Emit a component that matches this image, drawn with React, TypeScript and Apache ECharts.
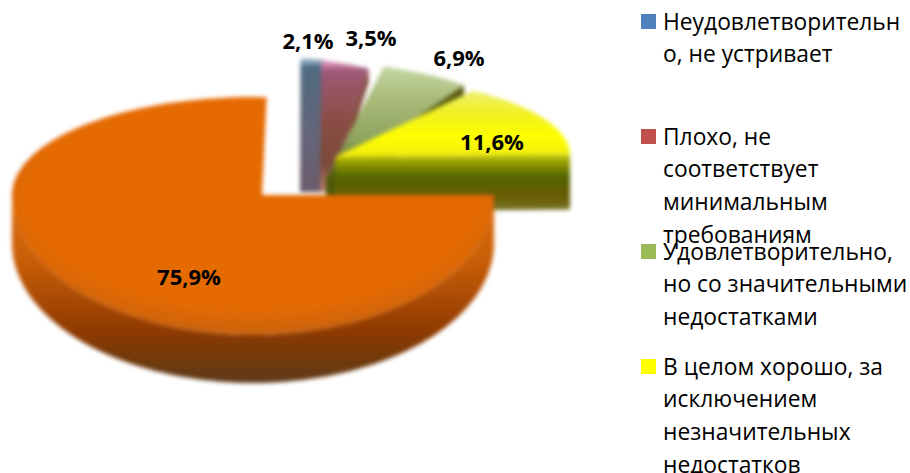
import React, { useEffect, useRef } from "react";
import * as echarts from "echarts";

const categories = [
  "Неудовлетворительно, не устривает",
  "Плохо, не соответствует минимальным требованиям",
  "Удовлетворительно, но со значительными недостатками",
  "В целом хорошо, за исключением незначительных недостатков",
  "Хорошо",
];
const values = [2.1, 3.5, 6.9, 11.6, 75.9];
const startAngles = [-87, -79.4, -66.8, -42, 0];

const legendLines = [
  ["Неудовлетворительн", "о, не устривает"],
  ["Плохо, не", "соответствует", "минимальным", "требованиям"],
  ["Удовлетворительно,", "но со значительными", "недостатками"],
  ["В целом хорошо, за", "исключением", "незначительных", "недостатков"],
];
const legendColors = ["#4f81bd", "#c0504d", "#9bbb59", "#ffff00"];

// Drawing geometry for each wedge: apex (with base width), ellipse centre, radii, warp of the angle, depth
const geometry = [
  { ax: 300, bw: 21, ay: 192, cx: 290, cy: 190, rx: 200, ryT: 132, ryB: 132, warp: 1, depth: 8, lx: 308, ly: 40 },
  { ax: 320, bw: 8, ay: 192, cx: 280, cy: 190, rx: 225, ryT: 132, ryB: 132, warp: 1, depth: 14, lx: 371, ly: 37 },
  { ax: 326, bw: 0, ay: 178, cx: 315, cy: 180, rx: 250, ryT: 118, ryB: 118, warp: 1.5, depth: 26, lx: 459, ly: 57 },
  { ax: 335, bw: 0, ay: 157, cx: 330, cy: 155, rx: 240, ryT: 80, ryB: 80, warp: 1.5, depth: 55, lx: 492, ly: 141 },
  { ax: 262, bw: 0, ay: 195, cx: 253, cy: 195, rx: 241, ryT: 98, ryB: 140, warp: 1, depth: 48, lx: 189, ly: 276 },
];

const grad = (stops: [number, string][], x2 = 0, y2 = 1) =>
  new echarts.graphic.LinearGradient(0, 0, x2, y2, stops.map(([offset, color]) => ({ offset, color })));

const faceFills = [
  grad([[0, "#a8c4d8"], [0.07, "#4f6a80"], [0.6, "#66657a"], [1, "#6a5a6a"]]),
  grad([[0, "#f0a8d0"], [0.08, "#a05a78"], [0.45, "#8a4d45"], [0.8, "#7a4a3a"], [1, "#c08070"]]),
  grad([[0, "#c4d8a4"], [0.3, "#a8b878"], [0.65, "#8fa55f"], [1, "#5a5a18"]]),
  grad([[0, "#eef070"], [0.35, "#f2f020"], [0.7, "#ffff00"], [1, "#f0ea10"]]),
  new echarts.graphic.RadialGradient(0.5, 0.42, 0.62, [
    { offset: 0, color: "#e46a00" },
    { offset: 0.75, color: "#e66a02" },
    { offset: 0.9, color: "#cf640c" },
    { offset: 1, color: "#b06428" },
  ]),
];
const wallFills = [
  grad([[0, "#5a5a6a"], [1, "#8a6a70"]]),
  grad([[0, "#7a4a3a"], [1, "#8a3a20"]]),
  grad([[0, "#5a5a10"], [1, "#4a5a05"]]),
  grad([[0, "#c4cc10"], [0.18, "#8a9000"], [0.4, "#526400"], [0.75, "#6a5c05"], [1, "#7a7a30"]]),
  grad([[0, "#de6c0c"], [0.35, "#c95e08"], [0.72, "#8f3a00"], [0.88, "#703a0c"], [1, "#5f3a1c"]]),
];

const warpAngle = (deg: number, k: number) => {
  if (k === 1) return (deg * Math.PI) / 180;
  const r = (deg * Math.PI) / 180;
  return Math.atan2(Math.sin(r) * k, Math.cos(r));
};

const renderItem = (_: unknown, api: any) => {
  const i: number = api.value(0);
  const v: number = api.value(1);
  const g = geometry[i];
  const sweep = (v / 100) * 360;
  const t0 = warpAngle(startAngles[i], g.warp);
  const t1 = warpAngle(startAngles[i] + sweep, g.warp);
  const end = t1 < t0 ? t1 + Math.PI * 2 : t1;
  const pt = (t: number, dy = 0): number[] => {
    const s = Math.sin(t);
    return [g.cx + g.rx * Math.cos(t), g.cy + (s < 0 ? g.ryT : g.ryB) * s + dy];
  };
  const steps = Math.max(6, Math.ceil(((end - t0) * 180) / Math.PI / 2));
  const arc: number[][] = [];
  for (let k = 0; k <= steps; k++) arc.push(pt(t0 + ((end - t0) * k) / steps));

  const children: any[] = [];
  const d = g.depth;
  const frontStart = Math.max(t0, 0);
  const frontEnd = Math.min(end, Math.PI);
  if (frontEnd > frontStart) {
    const upper: number[][] = [];
    const lower: number[][] = [];
    for (let k = 0; k <= 90; k++) {
      const t = frontStart + ((frontEnd - frontStart) * k) / 90;
      upper.push(pt(t));
      lower.push(pt(t, d));
    }
    children.push({
      type: "polygon",
      shape: { points: [...upper, ...lower.reverse()] },
      style: { fill: wallFills[i] },
    });
  }
  if (i < 4) {
    const p = pt(end);
    const right = g.ax + g.bw;
    children.push({
      type: "polygon",
      shape: { points: [[right, g.ay], p, [p[0], p[1] + d], [right, g.ay + d]] },
      style: { fill: wallFills[i] },
    });
  }
  const base = g.bw > 0 ? [[g.ax + g.bw, g.ay], [g.ax, g.ay]] : [[g.ax, g.ay]];
  children.push({
    type: "polygon",
    shape: { points: [...base, ...arc] },
    style: { fill: faceFills[i] },
  });
  return { type: "group", children };
};

const labelGraphics = values.map((v, i) => ({
  type: "text",
  x: geometry[i].lx,
  y: geometry[i].ly,
  style: {
    text: `${v.toFixed(1).replace(".", ",")}%`,
    font: 'bold 22px "Open Sans"',
    fill: "#000",
    align: "center",
    verticalAlign: "middle",
  },
}));

const legendStarts = [21, 136, 251, 366];
const legendGraphics = legendLines.flatMap((lines, i) => [
  {
    type: "rect",
    shape: { x: 641, y: legendStarts[i] - 7, width: 15, height: 15 },
    style: { fill: legendColors[i] },
  },
  ...lines.map((line, j) => ({
    type: "text",
    x: 663,
    y: legendStarts[i] + j * 32.7,
    style: {
      text: line,
      font: '22.8px "Open Sans"',
      fill: "#000",
      align: "left",
      verticalAlign: "middle",
    },
  })),
]);

const layerStyle = { position: "absolute", left: 0, top: 0, width: 910, height: 473 } as const;

export default function App() {
  const pieRef = useRef<HTMLDivElement>(null);
  const textRef = useRef<HTMLDivElement>(null);
  useEffect(() => {
    const pie = echarts.init(pieRef.current!, undefined, { renderer: "svg" });
    pie.setOption({
      animation: false,
      series: [
        {
          type: "custom",
          coordinateSystem: "none",
          silent: true,
          renderItem,
          data: values.map((v, i) => ({ name: categories[i], value: [i, v] })),
        },
      ],
    });
    const text = echarts.init(textRef.current!, undefined, { renderer: "svg" });
    text.setOption({
      animation: false,
      graphic: [...labelGraphics, ...legendGraphics],
    });
    return () => {
      pie.dispose();
      text.dispose();
    };
  }, []);
  return (
    <div style={{ position: "fixed", left: 0, top: 0, width: 910, height: 473, background: "#fff", overflow: "hidden" }}>
      <div ref={pieRef} style={{ ...layerStyle, filter: "blur(2px)" }} />
      <div ref={textRef} style={layerStyle} />
    </div>
  );
}
